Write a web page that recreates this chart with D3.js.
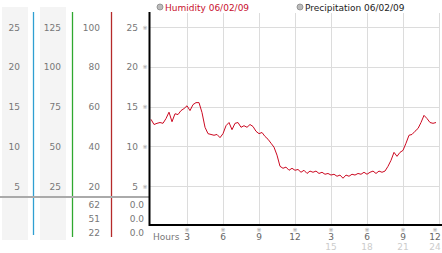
<!DOCTYPE html>
<html>
<head>
<meta charset="utf-8">
<script src="https://cdn.jsdelivr.net/npm/d3@7"></script>
<style>
  body { margin: 0; background: #fff; }
  text { font-family: "DejaVu Sans", sans-serif; font-size: 9px; }
</style>
</head>
<body>
<svg id="chart" width="442" height="253"></svg>
<script>
"use strict";

// humidity readings, one every quarter hour from midnight
const stepHours = 0.25;
const humidity = [
  13.4, 12.75, 12.9, 13.0, 12.9, 13.5, 14.3, 13.1, 14.1, 14.0, 14.5, 14.75,
  15.1, 14.5, 15.25, 15.5, 15.5, 14.25, 12.4, 11.6, 11.5, 11.4, 11.5, 11.1,
  11.6, 12.6, 13.0, 12.1, 12.9, 13.0, 12.4, 12.6, 12.4, 12.75, 12.5, 11.9,
  11.6, 11.75, 11.25, 10.9, 10.4, 9.9, 8.9, 7.5, 7.25, 7.4, 7.0, 7.25,
  7.0, 7.1, 6.75, 7.0, 6.6, 6.9, 6.75, 6.9, 6.6, 6.75, 6.5, 6.6,
  6.4, 6.5, 6.25, 6.4, 6.0, 6.4, 6.25, 6.5, 6.4, 6.6, 6.5, 6.75,
  6.5, 6.75, 6.9, 6.6, 6.9, 6.75, 6.9, 7.5, 8.25, 9.25, 8.75, 9.25,
  9.5, 10.4, 11.4, 11.5, 11.9, 12.25, 13.0, 13.9, 13.5, 13.0, 12.9, 13.0
];

const gridValues = [5, 10, 15, 20, 25];
const colA = ["5", "10", "15", "20", "25"];
const colB = ["25", "50", "75", "100", "125"];
const colC = ["20", "40", "60", "80", "100"];
const colD = ["5", "10", "15", "20", "25"];
const colCExtra = ["62", "51", "22"];
const colDExtra = ["0.0", "0.0", "0.0"];

const hourTicks = [3, 6, 9, 12, 15, 18, 21, 24];
const hourLabels = ["3", "6", "9", "12", "3", "6", "9", "12"];
const hourLabels2 = ["", "", "", "", "15", "18", "21", "24"];

const legendItems = ["Humidity 06/02/09", "Precipitation 06/02/09"];

let svg = d3.select("#chart");

let xScale = d3.scaleLinear().domain([0, 24]).range([151, 439]);
let yScale = d3.scaleLinear().domain([0, 25]).range([226, 27]);

/* left panel backgrounds */
svg.append("rect").attr("x", 2).attr("y", 7).attr("width", 26).attr("height", 233).attr("fill", "#f4f4f4");
svg.append("rect").attr("x", 40).attr("y", 7).attr("width", 26).attr("height", 233).attr("fill", "#f4f4f4");

/* coloured separators */
[[33.5, "#2f9fd2", 235], [72.5, "#2fa82f", 237], [111.5, "#b52a2a", 237]].forEach(s => {
  svg.append("line")
    .attr("x1", s[0]).attr("x2", s[0])
    .attr("y1", 12).attr("y2", s[2])
    .attr("stroke", s[1]).attr("stroke-width", 1.3);
});

/* grid */
svg.selectAll("line.hgrid")
  .data(gridValues)
  .enter()
  .append("line")
  .attr("class", "hgrid")
  .attr("x1", 150).attr("x2", 440)
  .attr("y1", d => Math.round(yScale(d)) + 0.5)
  .attr("y2", d => Math.round(yScale(d)) + 0.5)
  .attr("stroke", "#dcdcdc");

svg.selectAll("line.vgrid")
  .data(hourTicks)
  .enter()
  .append("line")
  .attr("class", "vgrid")
  .attr("x1", d => Math.round(xScale(d)) + 0.5)
  .attr("x2", d => Math.round(xScale(d)) + 0.5)
  .attr("y1", 13).attr("y2", 224)
  .attr("stroke", "#dcdcdc");

/* left column labels */
function column(labels, xRight) {
  svg.append("g")
    .selectAll("text")
    .data(labels)
    .enter()
    .append("text")
    .attr("x", xRight)
    .attr("y", (d, i) => yScale(gridValues[i]) + 3.5)
    .attr("text-anchor", "end")
    .attr("fill", "#777")
    .text(d => d);
}
column(colA, 20);
column(colB, 61);
column(colC, 100);
column(colD, 138);

// small markers left of the plot
svg.append("g")
  .selectAll("text")
  .data(gridValues)
  .enter()
  .append("text")
  .attr("x", 145)
  .attr("y", d => yScale(d) + 2.5)
  .attr("text-anchor", "middle")
  .attr("fill", "#999")
  .style("font-size", "6px")
  .text("※");

/* separator under the scales */
svg.append("line")
  .attr("x1", 0).attr("x2", 149)
  .attr("y1", 197).attr("y2", 197)
  .attr("stroke", "#aaa").attr("stroke-width", 2);

function extra(labels, xRight) {
  svg.append("g")
    .selectAll("text")
    .data(labels)
    .enter()
    .append("text")
    .attr("x", xRight)
    .attr("y", (d, i) => 207.5 + i * 14)
    .attr("text-anchor", "end")
    .attr("fill", "#777")
    .text(d => d);
}
extra(colCExtra, 100);
extra(colDExtra, 144);

/* humidity line */
let line = d3.line()
  .x((d, i) => xScale(i * stepHours))
  .y(d => yScale(d));

svg.append("path")
  .datum(humidity)
  .attr("d", line)
  .attr("fill", "none")
  .attr("stroke", "#cc0a22")
  .attr("stroke-width", 1);

/* axes */
svg.append("rect").attr("x", 148.5).attr("y", 12).attr("width", 2).attr("height", 214).attr("fill", "#000");
svg.append("rect").attr("x", 149).attr("y", 224).attr("width", 293).attr("height", 2).attr("fill", "#000");

/* bottom labels */
svg.append("text")
  .attr("x", 153).attr("y", 240)
  .attr("fill", "#777")
  .text("Hours");

let ticks = svg.append("g")
  .selectAll("g")
  .data(hourTicks)
  .enter()
  .append("g")
  .attr("transform", d => `translate(${Math.min(xScale(d), 435)},0)`);

ticks.append("text")
  .attr("y", 232)
  .attr("text-anchor", "middle")
  .attr("fill", "#999")
  .style("font-size", "6px")
  .text("※");

ticks.append("text")
  .attr("y", 240)
  .attr("text-anchor", "middle")
  .attr("fill", "#666")
  .text((d, i) => hourLabels[i]);

ticks.append("text")
  .attr("y", 250)
  .attr("text-anchor", "middle")
  .attr("fill", "#ccc")
  .text((d, i) => hourLabels2[i]);

/* legend */
let legend = svg.append("g")
  .selectAll("g")
  .data(legendItems)
  .enter()
  .append("g")
  .attr("transform", (d, i) => `translate(${i === 0 ? 160 : 300},7)`);

legend.append("circle")
  .attr("r", 3)
  .attr("fill", "#bbb")
  .attr("stroke", "#888")
  .attr("stroke-width", 0.8);

legend.append("text")
  .attr("x", 5)
  .attr("y", 3.5)
  .attr("fill", (d, i) => i === 0 ? "#c8102e" : "#222")
  .text(d => d);
</script>
</body>
</html>
